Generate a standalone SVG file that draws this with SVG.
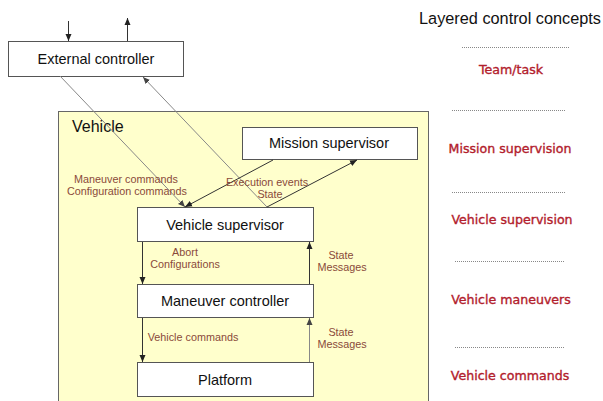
<svg xmlns="http://www.w3.org/2000/svg" width="603" height="401" viewBox="0 0 603 401">
<defs>
<style>
.box{fill:#fff;stroke:#555;stroke-width:1}
.nt{font-family:"Liberation Sans",Arial,sans-serif;font-size:14.5px;fill:#111;text-anchor:middle}
.lb{font-family:"Liberation Sans",Arial,sans-serif;font-size:10.8px;fill:#8a4a3a;text-anchor:middle}
.ly{font-family:"DejaVu Sans",Verdana,sans-serif;font-size:12.6px;fill:#b2202c;stroke:#b2202c;stroke-width:0.35;text-anchor:middle}
.dot{stroke:#888;stroke-width:1;stroke-dasharray:1 1}
.dk{stroke:#333;stroke-width:1;fill:none}
.lt{stroke:#888;stroke-width:1;fill:none}
</style>
<marker id="ad" markerWidth="8" markerHeight="8" refX="7" refY="4" orient="auto" markerUnits="userSpaceOnUse">
<path d="M0,1 L7,4 L0,7 z" fill="#222"/>
</marker>
<marker id="al" markerWidth="8" markerHeight="8" refX="7" refY="4" orient="auto" markerUnits="userSpaceOnUse">
<path d="M0,1 L7,4 L0,7 z" fill="#444"/>
</marker>
</defs>
<rect width="603" height="401" fill="#fff"/>
<g id="vehicle">
<rect x="58.5" y="111.5" width="370" height="295" fill="#ffffcc" stroke="#666"/>
<text x="72" y="132" font-family="'Liberation Sans',Arial,sans-serif" font-size="16" fill="#111">Vehicle</text>
</g>
<g id="external-controller">
<rect class="box" x="8.5" y="41.5" width="175" height="35"/>
<text class="nt" x="96" y="64">External controller</text>
</g>
<g id="mission-supervisor">
<rect class="box" x="242.5" y="127.5" width="175" height="32"/>
<text class="nt" x="329" y="148">Mission supervisor</text>
</g>
<g id="vehicle-supervisor">
<rect class="box" x="137.5" y="207.5" width="176" height="34"/>
<text class="nt" x="225" y="229.5">Vehicle supervisor</text>
</g>
<g id="maneuver-controller">
<rect class="box" x="137.5" y="284.5" width="176" height="33"/>
<text class="nt" x="225" y="305.5">Maneuver controller</text>
</g>
<g id="platform">
<rect class="box" x="137.5" y="362.5" width="176" height="34"/>
<text class="nt" x="225" y="384.5">Platform</text>
</g>
<g id="connectors">
<line class="dk" x1="68.5" y1="21" x2="68.5" y2="41" marker-end="url(#ad)"/>
<line class="dk" x1="127.5" y1="41" x2="127.5" y2="18" marker-end="url(#ad)"/>
<line class="lt" x1="60" y1="76" x2="185" y2="207" marker-end="url(#al)"/>
<line class="lt" x1="267" y1="207" x2="143" y2="77" marker-end="url(#al)"/>
<line class="dk" x1="273" y1="160" x2="185" y2="207" marker-end="url(#ad)"/>
<line class="dk" x1="267" y1="207" x2="357" y2="160" marker-end="url(#ad)"/>
<line class="dk" x1="142.5" y1="242" x2="142.5" y2="284" marker-end="url(#ad)"/>
<line class="dk" x1="309.5" y1="284" x2="309.5" y2="242" marker-end="url(#ad)"/>
<line class="dk" x1="142.5" y1="318" x2="142.5" y2="362" marker-end="url(#ad)"/>
<line class="lt" x1="309.5" y1="362" x2="309.5" y2="318" marker-end="url(#al)"/>
</g>
<g id="labels">
<text class="lb" x="126" y="183">Maneuver commands</text>
<text class="lb" x="127" y="195">Configuration commands</text>
<text class="lb" x="267" y="186">Execution events</text>
<text class="lb" x="270" y="198">State</text>
<text class="lb" x="185" y="256">Abort</text>
<text class="lb" x="185" y="268">Configurations</text>
<text class="lb" x="341" y="259">State</text>
<text class="lb" x="342" y="271">Messages</text>
<text class="lb" x="193" y="341">Vehicle commands</text>
<text class="lb" x="341" y="336">State</text>
<text class="lb" x="342" y="348">Messages</text>
</g>
<g id="layers">
<text x="510" y="24" font-family="'Liberation Sans',Arial,sans-serif" font-size="16.3" fill="#111" text-anchor="middle">Layered control concepts</text>
<line class="dot" x1="462" y1="47.5" x2="570" y2="47.5"/>
<text class="ly" x="511" y="74">Team/task</text>
<line class="dot" x1="452" y1="110.5" x2="565" y2="110.5"/>
<text class="ly" x="510" y="153">Mission supervision</text>
<line class="dot" x1="452" y1="192.5" x2="565" y2="192.5"/>
<text class="ly" x="512" y="224">Vehicle supervision</text>
<line class="dot" x1="455" y1="261.5" x2="565" y2="261.5"/>
<text class="ly" x="511" y="304">Vehicle maneuvers</text>
<line class="dot" x1="455" y1="347.5" x2="565" y2="347.5"/>
<text class="ly" x="510" y="380">Vehicle commands</text>
</g>
</svg>
